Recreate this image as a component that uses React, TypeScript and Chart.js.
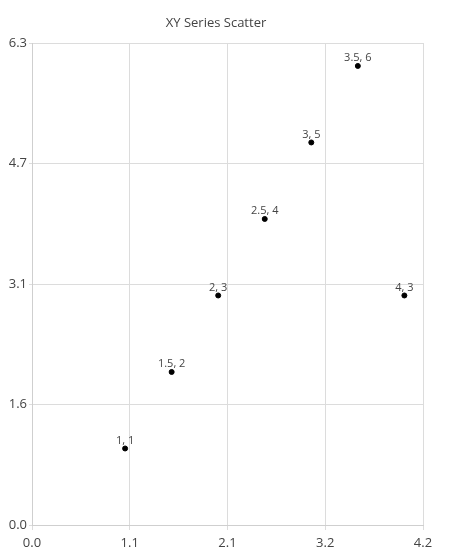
import React, { useEffect, useRef } from "react";
import { Chart, registerables } from "chart.js";

Chart.register(...registerables);

const xValues = [1, 1.5, 2, 2.5, 3, 3.5, 4];
const yValues = [1, 2, 3, 4, 5, 6, 3];
const pointLabels = ["1, 1", "1.5, 2", "2, 3", "2.5, 4", "3, 5", "3.5, 6", "4, 3"];
const xTicks = [0, 1.05, 2.1, 3.15, 4.2];
const xTickLabels = ["0.0", "1.1", "2.1", "3.2", "4.2"];
const yTicks = [0, 1.575, 3.15, 4.725, 6.3];
const yTickLabels = ["0.0", "1.6", "3.1", "4.7", "6.3"];
const title = "XY Series Scatter";

const FONT = "'Open Sans', sans-serif";
const TEXT = "#444";

const labelPlugin = {
  id: "pointLabels",
  afterDatasetsDraw(chart: any) {
    const ctx = chart.ctx;
    const meta = chart.getDatasetMeta(0);
    ctx.save();
    ctx.font = `11px ${FONT}`;
    ctx.fillStyle = TEXT;
    ctx.textAlign = "center";
    ctx.textBaseline = "middle";
    meta.data.forEach((el: any, i: number) => {
      ctx.fillText(pointLabels[i], el.x, el.y - 8);
    });
    ctx.restore();
  },
};

const titlePlugin = {
  id: "customTitle",
  afterDraw(chart: any) {
    const ctx = chart.ctx;
    ctx.save();
    ctx.font = `13px ${FONT}`;
    ctx.fillStyle = TEXT;
    ctx.textAlign = "center";
    ctx.textBaseline = "alphabetic";
    ctx.fillText(title, 216, 27);
    ctx.restore();
  },
};

export default function App() {
  const ref = useRef<HTMLCanvasElement>(null);
  useEffect(() => {
    document.body.style.margin = "0";
    const data = xValues.map((x, i) => ({ x, y: yValues[i] }));
    const chart = new Chart(ref.current!, {
      type: "scatter",
      data: {
        datasets: [
          {
            data,
            backgroundColor: "#000",
            borderColor: "#000",
            pointRadius: 2.5,
            pointHoverRadius: 2.5,
          },
        ],
      },
      options: {
        animation: false,
        responsive: false,
        layout: { padding: { left: 0, right: 29, top: 43, bottom: 0 } },
        plugins: {
          legend: { display: false },
          tooltip: { enabled: false },
          title: { display: false },
        },
        scales: {
          x: {
            type: "linear",
            min: 0,
            max: 4.2,
            afterBuildTicks: (s: any) => {
              s.ticks = xTicks.map((v) => ({ value: v }));
            },
            afterFit: (s: any) => {
              s.height = 30;
            },
            ticks: {
              color: TEXT,
              font: { family: FONT, size: 13 },
              maxRotation: 0,
              autoSkip: false,
              padding: 5,
              callback: (_v: any, i: number) => xTickLabels[i],
            },
            grid: { color: "#dcdcdc", tickLength: 5 },
            border: { color: "#cfcfcf" },
          },
          y: {
            type: "linear",
            min: 0,
            max: 6.3,
            afterBuildTicks: (s: any) => {
              s.ticks = yTicks.map((v) => ({ value: v }));
            },
            afterFit: (s: any) => {
              s.width = 32;
            },
            ticks: {
              color: TEXT,
              font: { family: FONT, size: 13 },
              autoSkip: false,
              padding: 2,
              callback: (_v: any, i: number) => yTickLabels[i],
            },
            grid: { color: "#dcdcdc", tickLength: 3 },
            border: { color: "#cfcfcf" },
          },
        },
      },
      plugins: [labelPlugin, titlePlugin],
    });
    return () => chart.destroy();
  }, []);
  return (
    <div style={{ width: 452, height: 555 }}>
      <canvas ref={ref} width={452} height={555} style={{ display: "block" }} />
    </div>
  );
}
